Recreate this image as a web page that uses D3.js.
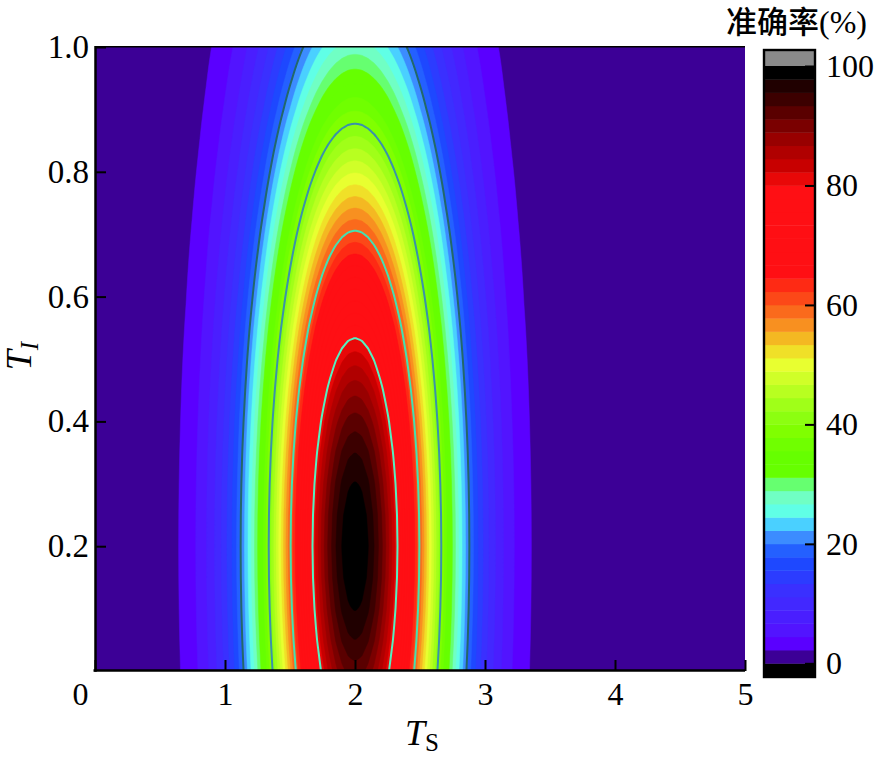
<!DOCTYPE html>
<html><head><meta charset="utf-8">
<script src="https://cdn.jsdelivr.net/npm/d3@7"></script>
<style>body{margin:0;background:#fff} svg{display:block}</style>
</head><body>
<svg id="chart" width="876" height="757"></svg>
<script>
// ---- data ----
const tsTicks = [0, 1, 2, 3, 4, 5];
const tiTicks = [0.2, 0.4, 0.6, 0.8, 1.0];
const cbTicks = [0, 20, 40, 60, 80, 100];
const lineLevels = [20, 40, 60, 80];
const lineColors = ["#22686a", "#3a92aa", "#45e0b0", "#55f0c0"];

// relative accuracy (% of the ridge value) across T_S
const tsSamples = [0, 0.40,0.45,0.50,0.55,0.60,0.65,0.70,0.75,0.80,0.85,0.90,0.95,1.00,1.05,1.10,1.15,1.20,1.25,1.30,1.35,1.40,1.45,1.50,1.55,1.60,1.65,1.70,1.75,1.80,1.85,1.90,1.95,2.00,2.05,2.10,2.15,2.20,2.25,2.30,2.35,2.40,2.45,2.50,2.55,2.60,2.65,2.70,2.75,2.80,2.85,2.90,2.95,3.00,3.05,3.10,3.15,3.20,3.25,3.30,3.35,3.40,3.45,3.50,3.55,3.60, 5];
const tsProfile = [0, 0.5,0.7,0.9,1.3,1.7,2.3,3.0,3.9,5.0,6.4,8.1,10.1,12.5,15.3,18.5,22.2,26.4,31.0,36.0,41.5,47.3,53.3,59.4,65.6,71.7,77.5,82.9,87.8,92.0,95.4,97.9,99.5,100,99.5,97.9,95.4,92.0,87.8,82.9,77.5,71.7,65.6,59.4,53.3,47.3,41.5,36.0,31.0,26.4,22.2,18.5,15.3,12.5,10.1,8.1,6.4,5.0,3.9,3.0,2.3,1.7,1.3,0.9,0.7,0.5, 0];

// ridge accuracy (%) at T_S = 2 across T_I
const tiSamples = [0,0.05,0.10,0.15,0.20,0.25,0.30,0.35,0.40,0.45,0.50,0.55,0.60,0.65,0.70,0.75,0.80,0.85,0.90,0.95,1.00];
const tiPeak = [92.3,95.6,98.0,99.5,100,99.5,98.0,95.6,92.3,88.2,83.5,78.3,72.6,66.7,60.7,54.6,48.7,43.0,37.5,32.5,27.8];

// 45 colour levels from 0 to 100
const bandColors = [
  "#3c0096","#5a00ff","#5214ff","#4a1eff","#4228ff","#3a30ff","#2c3cff","#1e48ff","#2460ff","#3c8cff",
  "#4ad0ff","#60ffe6","#70ffc4","#66ff70","#66ff00","#66ff00","#70ff00","#80ff00","#8cff10","#a0ff18",
  "#b8ff20","#d0ff28","#e8ff30","#f0e028","#f4b822","#f89020","#fa6a1c","#fc4818","#fe2a14","#ff0f14",
  "#ff0f14","#ff0f14","#ff0f14","#ff0f14","#ff0f14","#ff0f14","#e80808","#c80000","#b00000","#980000",
  "#7a0000","#5a0000","#3c0000","#200000","#000000"
];
const overColor = "#8a8a8a";
const underColor = "#000000";

// ---- layout ----
const svg = d3.select("#chart");
const plot = {left: 95, right: 745, top: 47, bottom: 671};
const serif = "'Liberation Serif','Times New Roman',serif";
const x = d3.scaleLinear().domain([0, 5]).range([plot.left, plot.right]);
const y = d3.scaleLinear().domain([0, 1]).range([plot.bottom, plot.top]);
const profile = d3.scaleLinear().domain(tsSamples).range(tsProfile).clamp(true);
const ridge = d3.scaleLinear().domain(tiSamples).range(tiPeak);
const nBands = bandColors.length;
const levels = d3.range(nBands).map(k => k * 100 / nBands);

// ---- grid ----
const cell = 2, pad = 3;
const nx = Math.round((plot.right - plot.left) / cell) + 2 * pad;
const ny = Math.round((plot.bottom - plot.top) / cell) + 2 * pad;
const px0 = plot.left - pad * cell, py0 = plot.top - pad * cell;
const values = new Float64Array(nx * ny);
for (let j = 0; j < ny; j++) {
  const ti = y.invert(py0 + (j + 0.5) * cell);
  const r = ridge(ti);
  for (let i = 0; i < nx; i++) {
    const ts = x.invert(px0 + (i + 0.5) * cell);
    values[i + j * nx] = r * profile(ts) / 100;
  }
}
const path = d3.geoPath(d3.geoIdentity().scale(cell).translate([px0, py0]));

svg.append("clipPath").attr("id", "clip")
  .append("rect").attr("x", plot.left).attr("y", plot.top)
  .attr("width", plot.right - plot.left).attr("height", plot.bottom - plot.top);

const gPlot = svg.append("g").attr("clip-path", "url(#clip)");
gPlot.append("rect").attr("x", plot.left).attr("y", plot.top)
  .attr("width", plot.right - plot.left).attr("height", plot.bottom - plot.top)
  .attr("fill", bandColors[0]);

const bands = d3.contours().size([nx, ny]).thresholds(levels)(values);
gPlot.selectAll("path.band").data(bands).join("path")
  .attr("class", "band")
  .attr("d", path)
  .attr("fill", (d, k) => bandColors[k])
  .attr("stroke", (d, k) => bandColors[k])
  .attr("stroke-width", 0.5);

const lines = d3.contours().size([nx, ny]).thresholds(lineLevels)(values);
gPlot.selectAll("path.cline").data(lines).join("path")
  .attr("class", "cline")
  .attr("d", path)
  .attr("fill", "none")
  .attr("stroke", (d, k) => lineColors[k])
  .attr("stroke-width", 2);

// ---- axes ----
const xAxis = svg.append("g").attr("transform", `translate(0,${plot.bottom})`)
  .call(d3.axisBottom(x).tickValues(tsTicks).tickFormat(d3.format("d"))
    .tickSize(-11).tickSizeOuter(0).tickPadding(11));
xAxis.select(".domain").remove();
xAxis.selectAll(".tick line").attr("stroke", "#000").attr("stroke-width", 2);
xAxis.selectAll(".tick text").attr("font-family", serif).attr("font-size", 32).attr("fill", "#000")
  .attr("dx", d => d === 0 ? -15 : 0);

const yAxis = svg.append("g").attr("transform", `translate(${plot.left},0)`)
  .call(d3.axisLeft(y).tickValues(tiTicks).tickFormat(d3.format(".1f"))
    .tickSize(-11).tickSizeOuter(0).tickPadding(6));
yAxis.select(".domain").remove();
yAxis.selectAll(".tick line").attr("stroke", "#000").attr("stroke-width", 2);
yAxis.selectAll(".tick text").attr("font-family", serif).attr("font-size", 33).attr("fill", "#000");

// frame
svg.append("line").attr("x1", plot.left - 1.5).attr("x2", plot.right).attr("y1", plot.bottom - 0.5).attr("y2", plot.bottom - 0.5)
  .attr("stroke", "#000").attr("stroke-width", 2.5);
svg.append("line").attr("x1", plot.left + 0.5).attr("x2", plot.left + 0.5).attr("y1", plot.top - 1).attr("y2", plot.bottom + 0.7)
  .attr("stroke", "#000").attr("stroke-width", 2.5);
svg.append("line").attr("x1", plot.left).attr("x2", plot.right).attr("y1", plot.top - 0.3).attr("y2", plot.top - 0.3)
  .attr("stroke", "#000").attr("stroke-width", 1.5);

// axis titles
const xt = svg.append("text").attr("x", 422).attr("y", 745).attr("text-anchor", "middle")
  .attr("font-family", serif).attr("font-size", 36).attr("fill", "#000");
xt.append("tspan").attr("font-style", "italic").text("T");
xt.append("tspan").attr("font-size", 25).attr("dy", 6).text("S");

const yt = svg.append("text").attr("transform", "translate(31,356) rotate(-90)").attr("text-anchor", "middle")
  .attr("font-family", serif).attr("font-size", 36).attr("fill", "#000");
yt.append("tspan").attr("font-style", "italic").text("T");
yt.append("tspan").attr("font-style", "italic").attr("font-size", 25).attr("dy", 7).text("I");

// ---- colour bar ----
const cb = {left: 764, right: 815, top: 50, bottom: 677};
const cbY = d3.scaleLinear().domain([0, 100]).range([663.3, 66]);
const gcb = svg.append("g");
gcb.append("rect").attr("x", cb.left).attr("y", cb.top).attr("width", cb.right - cb.left)
  .attr("height", cbY(100) - cb.top).attr("fill", overColor);
gcb.append("rect").attr("x", cb.left).attr("y", cbY(0)).attr("width", cb.right - cb.left)
  .attr("height", cb.bottom - cbY(0)).attr("fill", underColor);
gcb.selectAll("rect.lv").data(levels).join("rect").attr("class", "lv")
  .attr("x", cb.left).attr("width", cb.right - cb.left)
  .attr("y", (d, k) => cbY(d + 100 / nBands))
  .attr("height", (d, k) => cbY(d) - cbY(d + 100 / nBands) + 0.4)
  .attr("fill", (d, k) => bandColors[k]);
gcb.append("rect").attr("x", cb.left).attr("y", cb.top).attr("width", cb.right - cb.left)
  .attr("height", cb.bottom - cb.top).attr("fill", "none").attr("stroke", "#000").attr("stroke-width", 2.4);

const cbAxis = svg.append("g").attr("transform", `translate(${cb.right},0)`)
  .call(d3.axisRight(cbY).tickValues(cbTicks).tickFormat(d3.format("d"))
    .tickSize(-10).tickSizeOuter(0).tickPadding(11));
cbAxis.select(".domain").remove();
cbAxis.selectAll(".tick line").attr("stroke", "#000").attr("stroke-width", 2);
cbAxis.selectAll(".tick text").attr("font-family", serif).attr("font-size", 32).attr("fill", "#000");

// colour bar title (serif primary font, CJK glyphs fall back to Noto Sans CJK SC)
const title = svg.append("text").attr("x", 867).attr("y", 33).attr("text-anchor", "end").attr("fill", "#000")
  .attr("font-family", "'Liberation Serif','Noto Sans CJK SC',serif").attr("font-size", 32);
title.append("tspan").attr("font-size", 31).attr("font-weight", 500).text("准确率");
title.append("tspan").text("(%)");
</script>
</body></html>
